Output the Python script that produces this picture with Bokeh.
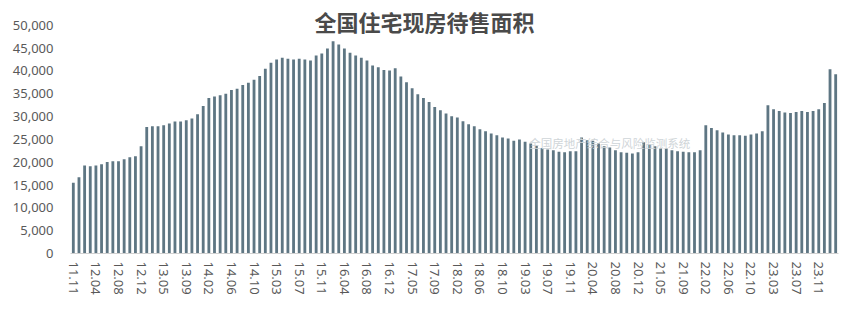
from bokeh.plotting import figure
from bokeh.models import Range1d, FixedTicker, NumeralTickFormatter, ColumnDataSource
from bokeh.core.properties import value
from bokeh.embed import file_html
from bokeh.resources import INLINE

# Months (January is merged into February in the source data)
months = [
    "11.11", "11.12",
    "12.02", "12.03", "12.04", "12.05", "12.06", "12.07", "12.08", "12.09", "12.10", "12.11", "12.12",
    "13.02", "13.03", "13.04", "13.05", "13.06", "13.07", "13.08", "13.09", "13.10", "13.11", "13.12",
    "14.02", "14.03", "14.04", "14.05", "14.06", "14.07", "14.08", "14.09", "14.10", "14.11", "14.12",
    "15.02", "15.03", "15.04", "15.05", "15.06", "15.07", "15.08", "15.09", "15.10", "15.11", "15.12",
    "16.02", "16.03", "16.04", "16.05", "16.06", "16.07", "16.08", "16.09", "16.10", "16.11", "16.12",
    "17.02", "17.03", "17.04", "17.05", "17.06", "17.07", "17.08", "17.09", "17.10", "17.11", "17.12",
    "18.02", "18.03", "18.04", "18.05", "18.06", "18.07", "18.08", "18.09", "18.10", "18.11", "18.12",
    "19.02", "19.03", "19.04", "19.05", "19.06", "19.07", "19.08", "19.09", "19.10", "19.11", "19.12",
    "20.02", "20.03", "20.04", "20.05", "20.06", "20.07", "20.08", "20.09", "20.10", "20.11", "20.12",
    "21.02", "21.03", "21.04", "21.05", "21.06", "21.07", "21.08", "21.09", "21.10", "21.11", "21.12",
    "22.02", "22.03", "22.04", "22.05", "22.06", "22.07", "22.08", "22.09", "22.10", "22.11", "22.12",
    "23.02", "23.03", "23.04", "23.05", "23.06", "23.07", "23.08", "23.09", "23.10", "23.11", "23.12",
    "24.02", "24.03",
]

# Residential unsold completed floor area (10k m2)
inventory = [
    15500, 16700,
    19300, 19100, 19300, 19550, 20050, 20200, 20200, 20650, 21100, 21300, 23500,
    27700, 27900, 27900, 28100, 28500, 28900, 28900, 29200, 29600, 30500, 32300,
    34100, 34400, 34700, 35000, 35800, 36100, 36900, 37400, 38100, 38900, 40500,
    41800, 42500, 42900, 42700, 42500, 42700, 42500, 42300, 43400, 43800, 44900,
    46500, 45800, 44900, 44000, 43400, 42900, 42300, 41200, 40800, 40200, 40100,
    40600, 38800, 37500, 36200, 34900, 34100, 33200, 32100, 31400, 30700, 30100,
    29800, 29000, 28300, 27900, 27200, 26800, 26300, 25900, 25400, 25200, 24700,
    25000, 24500, 24100, 23600, 23100, 22800, 22600, 22300, 22200, 22400, 22400,
    25400, 24800, 24700, 24100, 23500, 23200, 22600, 22200, 22100, 21900, 22200,
    24400, 23900, 23500, 23000, 23000, 22600, 22400, 22300, 22200, 22200, 22600,
    28100, 27500, 27000, 26500, 26100, 25900, 25900, 25800, 26100, 26300, 26800,
    32500, 31600, 31200, 30900, 30800, 31000, 31200, 31000, 31200, 31600, 33000,
    40400, 39300,
]

tick_labels = [
    "11.11", "12.04", "12.08", "12.12", "13.05", "13.09", "14.02", "14.06", "14.10",
    "15.03", "15.07", "15.11", "16.04", "16.08", "16.12", "17.05", "17.09", "18.02",
    "18.06", "18.10", "19.03", "19.07", "19.11", "20.04", "20.08", "20.12", "21.05",
    "21.09", "22.02", "22.06", "22.10", "23.03", "23.07", "23.11",
]

y_ticks = [0, 5000, 10000, 15000, 20000, 25000, 30000, 35000, 40000, 45000, 50000]

title_text = "全国住宅现房待售面积"
watermark_text = "全国房地产综合与风险监测系统"

pos = list(range(len(months)))
src = ColumnDataSource(data=dict(pos=pos, month=months, inventory=inventory))

p = figure(
    width=858, height=321,
    x_range=Range1d(-0.5, len(months) - 0.5),
    y_range=Range1d(0, 55000),
    output_backend="svg", toolbar_location=None,
    min_border_left=70, min_border_right=20, min_border_top=2, min_border_bottom=68,
)
p.background_fill_color = "white"
p.border_fill_color = "white"
p.outline_line_color = None
p.xgrid.visible = False
p.ygrid.visible = False

p.vbar(x="pos", top="inventory", width=0.5, source=src,
       fill_color="#5e7683", line_color=None)

# y axis
p.yaxis.ticker = FixedTicker(ticks=y_ticks)
p.yaxis.formatter = NumeralTickFormatter(format="0,0")
p.yaxis.axis_line_color = None
p.yaxis.major_tick_line_color = None
p.yaxis.minor_tick_line_color = None
p.yaxis.major_tick_out = 0
p.yaxis.major_tick_in = 0
p.yaxis.major_label_standoff = 17
p.yaxis.major_label_text_font = "Noto Sans"
p.yaxis.major_label_text_font_size = "13px"
p.yaxis.major_label_text_color = "#595959"

# x axis: every fourth month labelled
tick_pos = [months.index(t) for t in tick_labels]
p.xaxis.ticker = FixedTicker(ticks=tick_pos, minor_ticks=[])
p.xaxis.major_label_overrides = {i: t for i, t in zip(tick_pos, tick_labels)}
p.xaxis.axis_line_color = "#d0d0d0"
p.xaxis.major_tick_line_color = None
p.xaxis.minor_tick_line_color = None
p.xaxis.major_tick_out = 0
p.xaxis.major_tick_in = 0
p.xaxis.major_label_standoff = 8
p.xaxis.major_label_orientation = "vertical"
p.xaxis.major_label_text_font = "Noto Sans"
p.xaxis.major_label_text_font_size = "13px"
p.xaxis.major_label_text_color = "#595959"

# title (centred over the 17.07 bar)
p.text(x=[months.index("17.07")], y=[50870], text=[title_text],
       text_font=value("Noto Sans CJK SC"), text_font_size="22px",
       text_font_style="bold", text_color="#4a4a4a",
       text_align="center", text_baseline="middle", x_offset=1)

# watermark
p.text(x=[months.index("20.07")], y=[24160], text=[watermark_text],
       text_font=value("Noto Sans CJK SC"), text_font_size="11.5px",
       text_color="#cfd5d8", text_align="center", text_baseline="middle")

open("out.html", "w").write(file_html(p, INLINE))
